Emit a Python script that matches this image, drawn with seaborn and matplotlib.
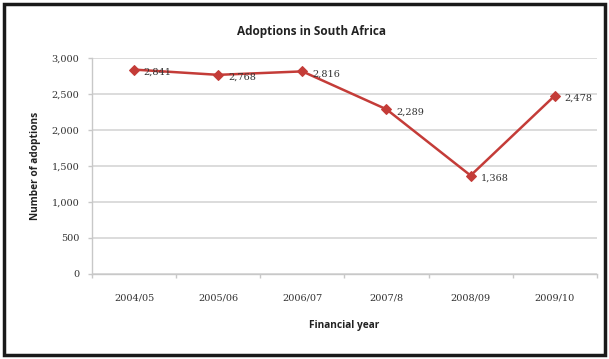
import matplotlib
matplotlib.use("Agg")
import matplotlib.pyplot as plt
import seaborn as sns
import pandas as pd
from matplotlib.patches import Rectangle
from matplotlib.ticker import FixedLocator, FuncFormatter

years = ["2004/05", "2005/06", "2006/07", "2007/8", "2008/09", "2009/10"]
adoptions = [2841, 2768, 2816, 2289, 1368, 2478]
y_ticks = [0, 500, 1000, 1500, 2000, 2500, 3000]

title = "Adoptions in South Africa"
x_label = "Financial year"
y_label = "Number of adoptions"

df = pd.DataFrame({"year": years, "adoptions": adoptions})

sns.set_theme(style="white")
plt.rcParams["font.family"] = ["DejaVu Serif"]

fig = plt.figure(figsize=(6.09, 3.59), dpi=100)
ax = fig.add_axes([0.151, 0.237, 0.829, 0.601])

line_color = "#C43C38"
sns.lineplot(data=df, x="year", y="adoptions", ax=ax, color=line_color,
             linewidth=1.8, marker="D", markersize=5,
             markeredgecolor=line_color, sort=False)

ax.set_xlim(-0.5, len(years) - 0.5)
ax.set_ylim(0, 3000)
ax.yaxis.set_major_locator(FixedLocator(y_ticks))
ax.yaxis.set_major_formatter(FuncFormatter(lambda v, p: f"{int(v):,}"))
ax.grid(axis="y", color="#D9D9D9", linewidth=1.3)
ax.set_axisbelow(True)

for s in ["top", "right"]:
    ax.spines[s].set_visible(False)
for s in ["left", "bottom"]:
    ax.spines[s].set_color("#C8C8C8")
    ax.spines[s].set_linewidth(1.0)

ax.set_xticks(range(len(years)))
ax.set_xticklabels(years)
ax.set_xticks([i - 0.5 for i in range(len(years) + 1)], minor=True)
ax.tick_params(axis="x", which="major", length=0, pad=14, labelsize=7, colors="#333333")
ax.tick_params(axis="x", which="minor", length=3, color="#C8C8C8", width=1, direction="out", bottom=True)
ax.tick_params(axis="y", which="major", length=3, color="#C8C8C8", width=1, direction="out",
               left=True, pad=6, labelsize=7, labelcolor="#333333")

for i, v in enumerate(adoptions):
    ax.annotate(f"{v:,}", (i, v), xytext=(7, -2), textcoords="offset points",
                ha="left", va="center", fontsize=7, color="#333333")

sans = ["Open Sans", "DejaVu Sans"]
ax.text(0.434, 1.125, title, transform=ax.transAxes, ha="center", va="center",
        fontsize=8.5, fontweight="bold", family=sans, color="#222222")
ax.set_xlabel(x_label, fontsize=7.3, fontweight="bold", family=sans,
              color="#222222", labelpad=13)
ax.set_ylabel(y_label, fontsize=7.3, fontweight="bold", family=sans,
              color="#222222", labelpad=8)

fig.patches.append(Rectangle((0.006, 0.012), 0.988, 0.976, transform=fig.transFigure,
                             fill=False, edgecolor="#1a1a1a", linewidth=2.5))

fig.savefig("out.png", dpi=100)
